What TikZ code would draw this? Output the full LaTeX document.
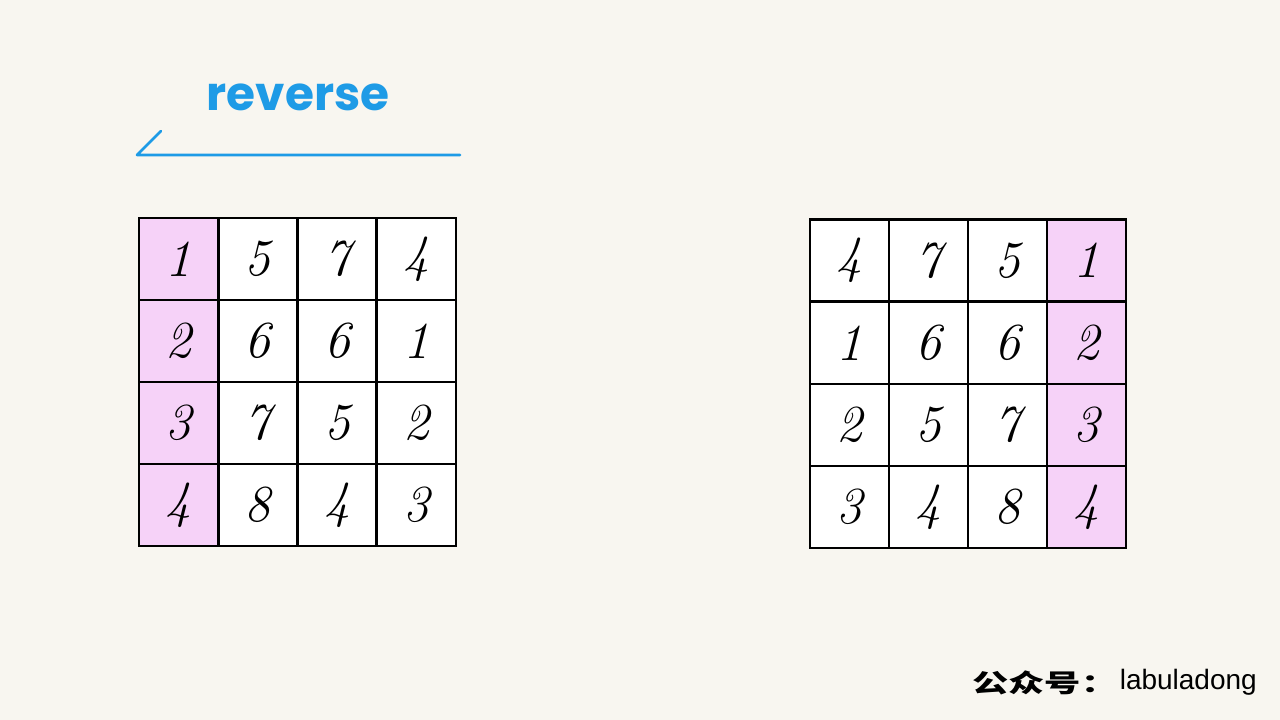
\documentclass[tikz,border=0pt]{standalone}
\usepackage{fontspec}
\setmainfont{Latin Modern Roman}
\newfontfamily\titlefont{Poppins}
\newfontfamily\wmfont{Liberation Sans}
\newfontfamily\cjkfont{Noto Sans CJK SC}
\definecolor{bgc}{HTML}{F8F6F0}
\definecolor{blueink}{HTML}{1E9BE6}
\definecolor{pinkc}{HTML}{F6D2F8}
\tikzset{
  cellbox/.style={draw=black, line width=2.4pt, fill=white, minimum width=79pt, minimum height=82pt, inner sep=0pt, outer sep=0pt, font=\fontsize{52}{52}\selectfont\itshape},
  hlcell/.style={cellbox, fill=pinkc},
}
\begin{document}
\begin{tikzpicture}[x=1pt,y=-1pt]
\fill[bgc] (0,0) rectangle (1280,720);
\useasboundingbox (0,0) rectangle (1280,720);
% title
\node[text=blueink, font=\fontsize{47}{47}\selectfont\titlefont\bfseries] (title) at (298,97) {reverse};
\coordinate (la) at (460,155);
\coordinate (lb) at (137,155);
\coordinate (lc) at (161,131);
\draw[blueink, line width=2.6pt, line cap=round, line join=round] (la) -- (lb) -- (lc);
% grids
\def\leftvals{{{1,5,7,4},{2,6,6,1},{3,7,5,2},{4,8,4,3}}}
\def\rightvals{{{4,7,5,1},{1,6,6,2},{2,5,7,3},{3,4,8,4}}}
\foreach \r in {0,...,3}{
  \foreach \c in {0,...,3}{
    \pgfmathtruncatemacro{\v}{\leftvals[\r][\c]}
    \ifnum\c=0
      \node[hlcell] (L-\r-\c) at ({139+79.25*\c+39.6},{218+82*\r+41}) {\v};
    \else
      \node[cellbox] (L-\r-\c) at ({139+79.25*\c+39.6},{218+82*\r+41}) {\v};
    \fi
    \pgfmathtruncatemacro{\w}{\rightvals[\r][\c]}
    \ifnum\c=3
      \node[hlcell] (R-\r-\c) at ({810+79*\c+39.5},{219.5+82.2*\r+41.1}) {\w};
    \else
      \node[cellbox] (R-\r-\c) at ({810+79*\c+39.5},{219.5+82.2*\r+41.1}) {\w};
    \fi
  }
}
% watermark
\node[anchor=west, inner sep=0pt, xscale=1.45, font=\fontsize{25}{25}\selectfont\cjkfont\bfseries] (wm1) at (972,683) {公众号：};
\node[anchor=east, inner sep=0pt, font=\fontsize{28}{28}\selectfont\wmfont] (wm2) at (1257,682) {labuladong};
\end{tikzpicture}
\end{document}
